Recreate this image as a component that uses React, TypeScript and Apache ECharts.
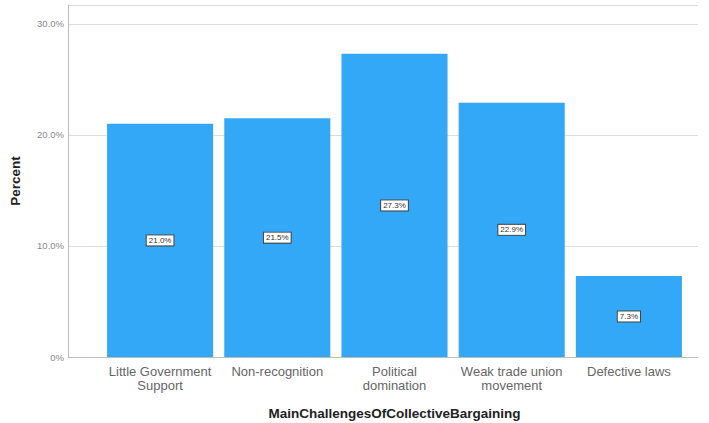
import React, { useEffect, useRef } from "react";
import * as echarts from "echarts";

const categories = [
  "Little Government\nSupport",
  "Non-recognition",
  "Political\ndomination",
  "Weak trade union\nmovement",
  "Defective laws",
];
const percentValues = [21.0, 21.5, 27.3, 22.9, 7.3];
const yTickValues = [0, 10, 20, 30];

export default function App() {
  const ref = useRef<HTMLDivElement>(null);
  useEffect(() => {
    if (!ref.current) return;
    const chart = echarts.init(ref.current, undefined, { renderer: "svg" });
    const font = "Liberation Sans, Arial, sans-serif";
    chart.setOption({
      animation: false,
      backgroundColor: "#ffffff",
      textStyle: { fontFamily: font },
      grid: [
        { left: 101.5, right: 21.5, top: 5, bottom: 66, containLabel: false, outerBoundsMode: "none" },
        { left: 68, right: 11, top: 5, bottom: 66, containLabel: false, outerBoundsMode: "none" },
      ],
      xAxis: [
        {
          type: "category",
          gridIndex: 0,
          data: categories,
          axisLine: { show: false },
          axisTick: { show: false },
          axisLabel: { color: "#666", fontSize: 13, lineHeight: 14, margin: 7, interval: 0, fontFamily: font },
          name: "MainChallengesOfCollectiveBargaining",
          nameLocation: "middle",
          nameGap: 49,
          nameTextStyle: { color: "#222", fontSize: 13.5, fontWeight: "bold", fontFamily: font },
        },
        {
          type: "value",
          gridIndex: 1,
          min: 0,
          max: 1,
          axisLine: { show: true, lineStyle: { color: "#bbb", width: 1 } },
          axisTick: { show: false },
          axisLabel: { show: false },
          splitLine: { show: false },
        },
      ],
      yAxis: [
        {
          type: "value",
          gridIndex: 0,
          min: 0,
          max: 31.7,
          show: false,
          splitLine: { show: false },
        },
        {
          type: "value",
          gridIndex: 1,
          min: 0,
          max: 31.7,
          interval: 10,
          axisLine: { show: true, lineStyle: { color: "#bbb", width: 1 } },
          axisTick: { show: false },
          splitLine: { show: true, lineStyle: { color: "#dcdcdc", width: 1 } },
          axisLabel: {
            color: "#888",
            fontSize: 9.5,
            margin: 4,
            fontFamily: font,
            showMaxLabel: false,
            formatter: (v: number) =>
              yTickValues.includes(v) ? (v === 0 ? "0%" : v.toFixed(1) + "%") : "",
          },
          name: "Percent",
          nameLocation: "middle",
          nameRotate: 90,
          nameGap: 46,
          nameTextStyle: { color: "#222", fontSize: 13.5, fontWeight: "bold", fontFamily: font },
        },
      ],
      series: [
        {
          type: "bar",
          xAxisIndex: 0,
          yAxisIndex: 0,
          data: percentValues,
          barCategoryGap: "9.5%",
          itemStyle: { color: "#33a8f7" },
          label: {
            show: true,
            position: "inside",
            formatter: (p: any) => Number(p.value).toFixed(1) + "%",
            backgroundColor: "#ffffff",
            borderColor: "#444",
            borderWidth: 1,
            padding: [1, 2],
            fontSize: 8,
            color: "#333",
            fontFamily: font,
          },
        },
      ],
    });
    return () => chart.dispose();
  }, []);
  return (
    <div
      ref={ref}
      style={{ position: "absolute", left: 0, top: 0, width: 709, height: 423 }}
    />
  );
}
